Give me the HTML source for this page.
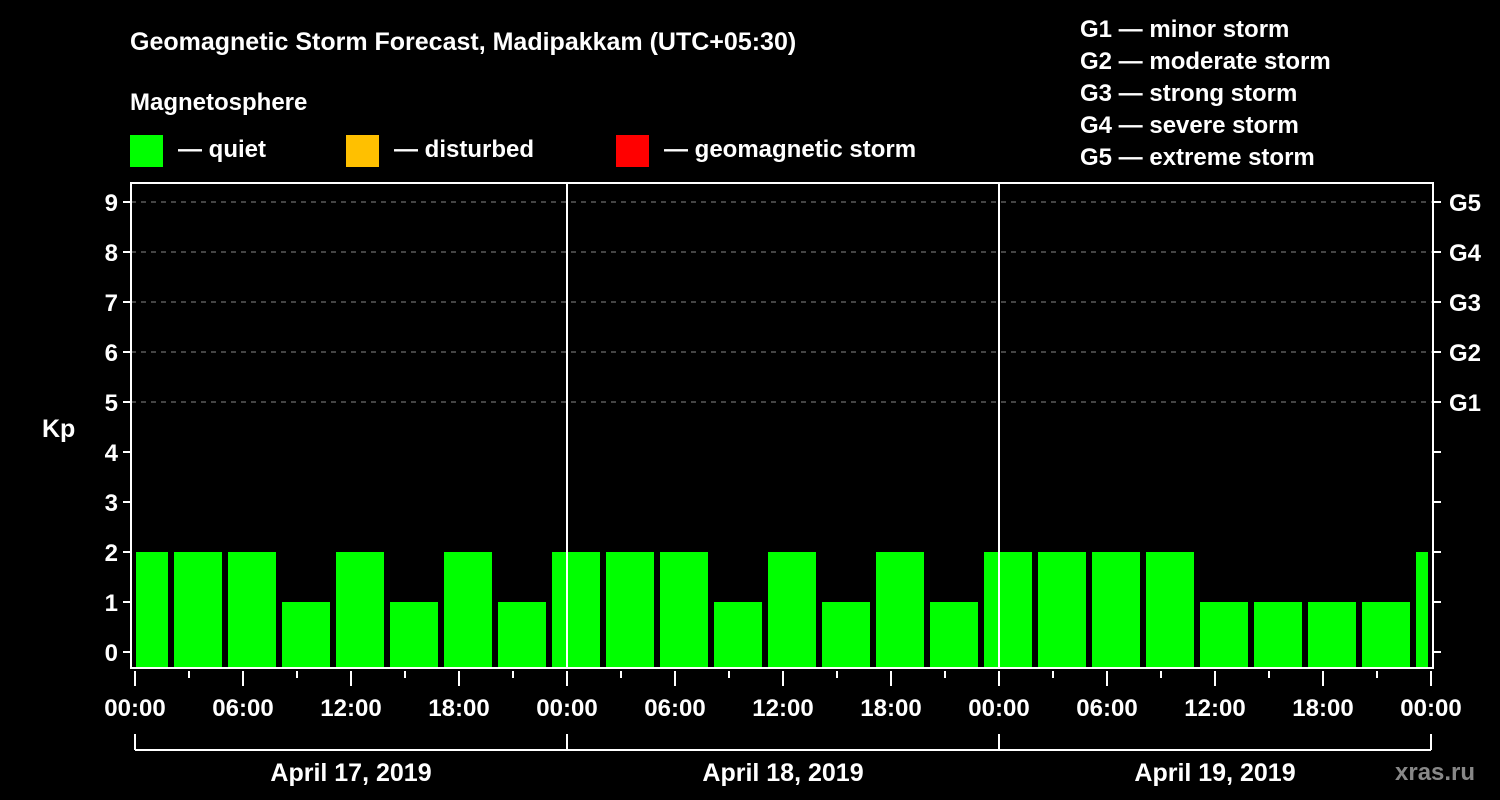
<!DOCTYPE html>
<html><head><meta charset="utf-8"><style>
body{margin:0;background:#000;width:1500px;height:800px;overflow:hidden}
svg{display:block}
text{font-family:"Liberation Sans",sans-serif;font-weight:bold;fill:#fff}
</style></head><body>
<svg id="c" width="1500" height="800">
<text x="130" y="50" font-size="25">Geomagnetic Storm Forecast, Madipakkam (UTC+05:30)</text>
<text x="130" y="110" font-size="24">Magnetosphere</text>
<g><rect x="130" y="135" width="33" height="32" fill="#00ff00"/><text x="178" y="157" font-size="24">— quiet</text></g>
<g><rect x="346" y="135" width="33" height="32" fill="#ffc000"/><text x="394" y="157" font-size="24">— disturbed</text></g>
<g><rect x="616" y="135" width="33" height="32" fill="#ff0000"/><text x="664" y="157" font-size="24">— geomagnetic storm</text></g>
<g font-size="24">
<text x="1080" y="37">G1 — minor storm</text><text x="1080" y="69">G2 — moderate storm</text><text x="1080" y="101">G3 — strong storm</text><text x="1080" y="133">G4 — severe storm</text><text x="1080" y="165">G5 — extreme storm</text>
</g>
<text x="42" y="437" font-size="25">Kp</text>
<text x="1395" y="780" font-size="24" style="fill:#888">xras.ru</text>
<g id="plot"></g>
</svg>
<script>
const kpValues=[2,2,2,1,2,1,2,1,2,2,2,1,2,1,2,1,2,2,2,2,1,1,1,1,2];
const yTicks=[0,1,2,3,4,5,6,7,8,9];
const gLabels=["G1","G2","G3","G4","G5"];
const timeLabels=["00:00","06:00","12:00","18:00","00:00","06:00","12:00","18:00","00:00","06:00","12:00","18:00","00:00"];
const dayLabels=["April 17, 2019","April 18, 2019","April 19, 2019"];
const NS="http://www.w3.org/2000/svg";
const g=document.getElementById('plot');
const x0=135,pxH=18,L=131,R=1433,T=183,B=668;
const xs=h=>x0+h*pxH;
const ys=v=>652-v*50;
function mk(t,a){const e=document.createElementNS(NS,t);for(const k in a)e.setAttribute(k,a[k]);g.appendChild(e);return e;}
// grid
yTicks.filter(v=>v>=5).forEach(v=>{const e=mk('line',{x1:L,x2:R,y1:ys(v),y2:ys(v),stroke:'#888','stroke-dasharray':'5,5'});

});
// bars
kpValues.forEach((v,i)=>{const s=xs(2+3*(i-1));let a=Math.max(s+3,136),b=Math.min(s+51,1428);
const c=v>=5?'#ff0000':(v>=4?'#ffc000':'#00ff00');
const e=mk('rect',{x:a,y:ys(v),width:b-a,height:B-ys(v),fill:c});

});
// frame
const f=mk('rect',{x:L,y:T,width:R-L,height:B-T,fill:'none',stroke:'#fff','stroke-width':2});


[1,2].forEach(d=>{const e=mk('line',{x1:xs(24*d),x2:xs(24*d),y1:T,y2:B,stroke:'#fff','stroke-width':2});

});
// y ticks
yTicks.forEach(v=>{mk('line',{x1:123,x2:L,y1:ys(v),y2:ys(v),stroke:'#fff','stroke-width':2});
mk('line',{x1:R,x2:1441,y1:ys(v),y2:ys(v),stroke:'#fff','stroke-width':2});
const t=mk('text',{x:118,y:ys(v)+9,'font-size':24,'text-anchor':'end'});t.textContent=v;

});
gLabels.forEach((l,i)=>{const t=mk('text',{x:1449,y:ys(5+i)+9,'font-size':24});t.textContent=l;

});
// x ticks
for(let h=0;h<=72;h+=3){const big=h%6==0;mk('line',{x1:xs(h),x2:xs(h),y1:671,y2:big?686:678,stroke:'#fff','stroke-width':2});}
timeLabels.forEach((l,i)=>{const t=mk('text',{x:xs(i*6),y:716,'font-size':24,'text-anchor':'middle'});t.textContent=l;

});
// day bracket
mk('line',{x1:xs(0),x2:xs(72),y1:750,y2:750,stroke:'#fff','stroke-width':2});
for(let d=0;d<=3;d++)mk('line',{x1:xs(24*d),x2:xs(24*d),y1:734,y2:750,stroke:'#fff','stroke-width':2});
dayLabels.forEach((l,i)=>{const t=mk('text',{x:xs(24*i+12),y:781,'font-size':25,'text-anchor':'middle'});t.textContent=l;

});
</script>
</body></html>
